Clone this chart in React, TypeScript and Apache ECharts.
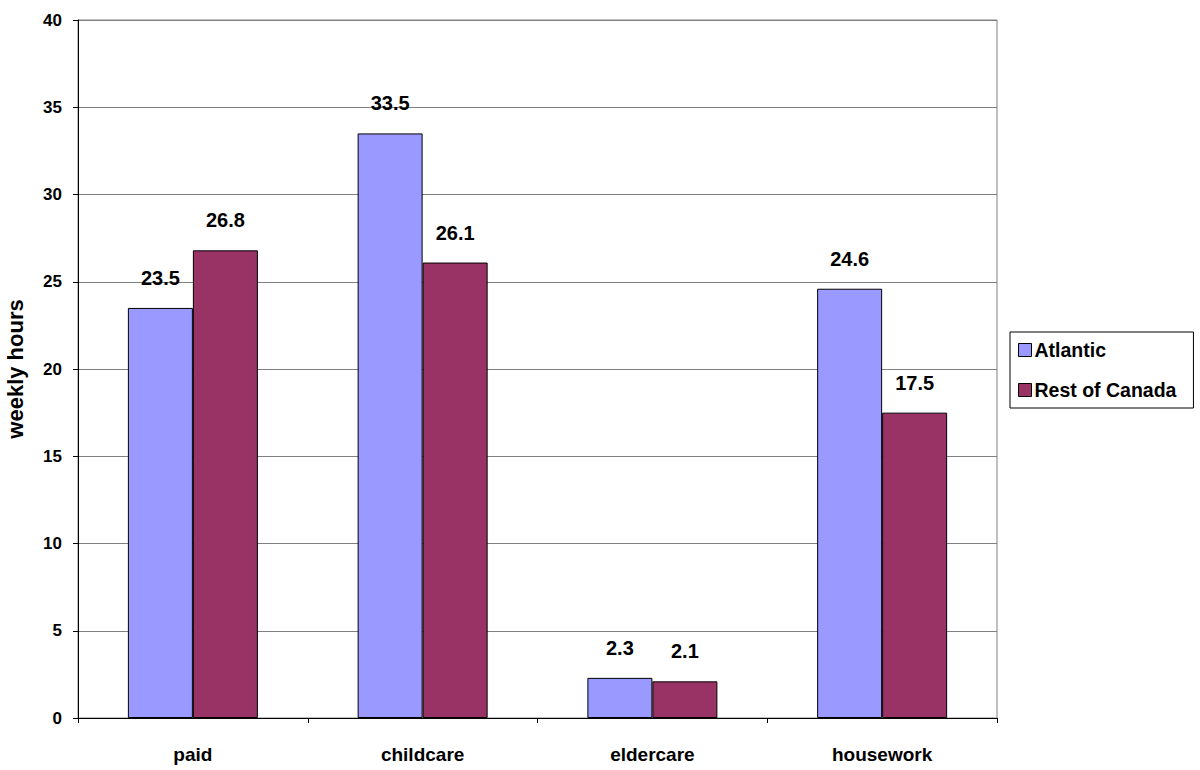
import React, { useEffect, useRef } from "react";
import * as echarts from "echarts";

const categories = ["paid", "childcare", "eldercare", "housework"];
const atlantic = [23.5, 33.5, 2.3, 24.6];
const restOfCanada = [26.8, 26.1, 2.1, 17.5];
const seriesNames = ["Atlantic", "Rest of Canada"];
const yTicks = { min: 0, max: 40, interval: 5 };

const FONT = "Arial, 'Liberation Sans', sans-serif";

export default function App() {
  const ref = useRef<HTMLDivElement>(null);
  useEffect(() => {
    if (!ref.current) return;
    const chart = echarts.init(ref.current, null, { renderer: "svg" });
    const labelStyle = {
      show: true,
      position: "top",
      distance: 20,
      fontFamily: FONT,
      fontWeight: "bold",
      fontSize: 20,
      color: "#000",
    };
    chart.setOption({
      animation: false,
      backgroundColor: "#fff",
      grid: {
        left: 78,
        right: 203,
        top: 20,
        bottom: 52,
        containLabel: false,
        outerBoundsMode: "none",
        show: true,
        borderColor: "#808080",
        borderWidth: 1,
      },
      legend: {
        orient: "vertical",
        left: 1010,
        top: 332,
        padding: [7, 17, 7, 8],
        itemGap: 18,
        itemWidth: 13,
        itemHeight: 13,
        borderColor: "#000",
        borderWidth: 1,
        backgroundColor: "#fff",
        icon: "rect",
        itemStyle: { borderColor: "#000", borderWidth: 1 },
        textStyle: {
          fontFamily: FONT,
          fontWeight: "bold",
          fontSize: 19.5,
          color: "#000",
          lineHeight: 22,
          padding: [0, 0, 0, -2],
        },
        data: seriesNames,
      },
      xAxis: {
        type: "category",
        data: categories,
        axisLine: { lineStyle: { color: "#000", width: 1 } },
        axisTick: { show: true, length: 5, lineStyle: { color: "#000" } },
        axisLabel: {
          margin: 27,
          fontFamily: FONT,
          fontWeight: "bold",
          fontSize: 19,
          color: "#000",
        },
      },
      yAxis: {
        type: "value",
        min: yTicks.min,
        max: yTicks.max,
        interval: yTicks.interval,
        name: "weekly hours",
        nameLocation: "middle",
        nameGap: 52,
        nameRotate: 90,
        nameTextStyle: {
          fontFamily: FONT,
          fontWeight: "bold",
          fontSize: 22,
          color: "#000",
        },
        axisLine: { show: true, lineStyle: { color: "#000", width: 1 } },
        axisTick: { show: true, length: 5, lineStyle: { color: "#000" } },
        axisLabel: {
          margin: 16,
          fontFamily: FONT,
          fontWeight: "bold",
          fontSize: 17,
          color: "#000",
        },
        splitLine: { show: true, lineStyle: { color: "#808080", width: 1 } },
      },
      series: [
        {
          name: seriesNames[0],
          type: "bar",
          data: atlantic,
          barWidth: 65,
          barGap: "0%",
          itemStyle: { color: "#9999FF", borderColor: "#000", borderWidth: 1 },
          label: labelStyle,
        },
        {
          name: seriesNames[1],
          type: "bar",
          data: restOfCanada,
          barWidth: 65,
          barGap: "0%",
          itemStyle: { color: "#993366", borderColor: "#000", borderWidth: 1 },
          label: labelStyle,
        },
      ],
    });
    return () => chart.dispose();
  }, []);
  return (
    <div
      ref={ref}
      style={{ position: "fixed", left: 0, top: 0, width: 1200, height: 770 }}
    />
  );
}
